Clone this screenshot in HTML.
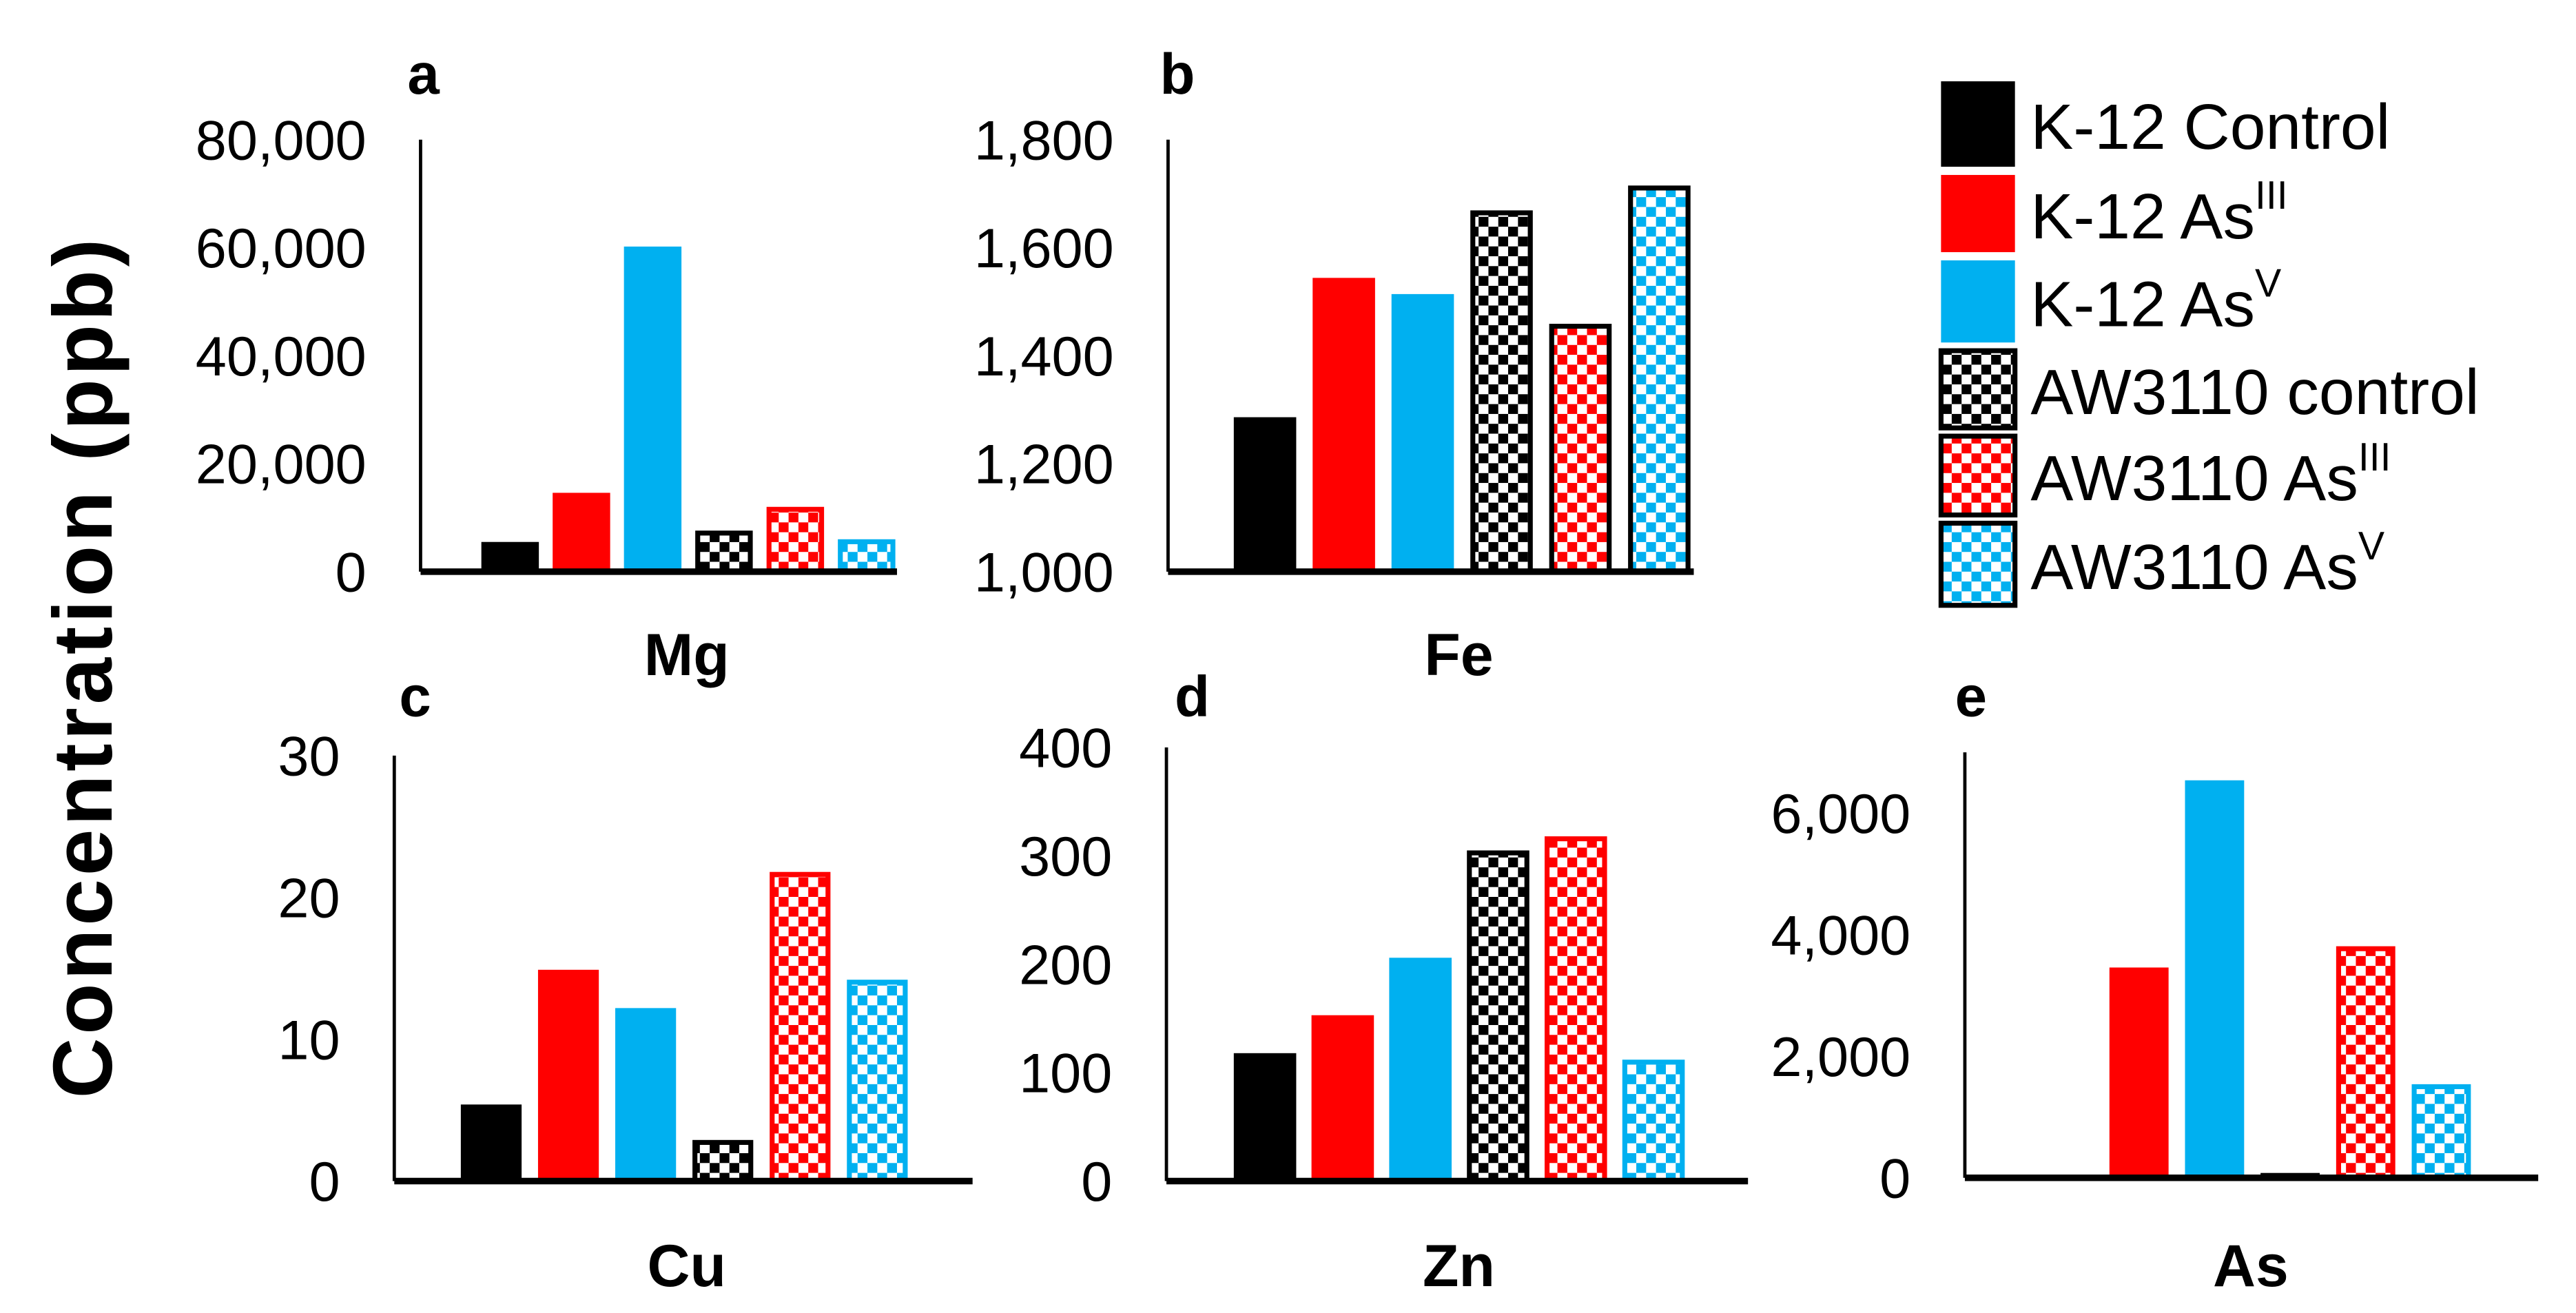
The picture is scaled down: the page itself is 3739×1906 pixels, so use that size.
<!DOCTYPE html>
<html><head><meta charset="utf-8"><style>
html,body{margin:0;padding:0;background:#fff;}
svg{display:block;}
text{font-family:"Liberation Sans",Arial,sans-serif;}
</style></head><body>
<svg id="fig" width="3739" height="1906" viewBox="0 0 1568 799.3" preserveAspectRatio="none" xmlns="http://www.w3.org/2000/svg">
<defs>
<pattern id="chk-black" width="12" height="12" patternUnits="userSpaceOnUse"><rect width="12" height="12" fill="#fff"/><rect width="6" height="6" fill="#000"/><rect x="6" y="6" width="6" height="6" fill="#000"/></pattern>
<pattern id="chk-red" width="12" height="12" patternUnits="userSpaceOnUse"><rect width="12" height="12" fill="#fff"/><rect width="6" height="6" fill="#ff0000"/><rect x="6" y="6" width="6" height="6" fill="#ff0000"/></pattern>
<pattern id="chk-blue" width="12" height="12" patternUnits="userSpaceOnUse"><rect width="12" height="12" fill="#fff"/><rect width="6" height="6" fill="#00b0f0"/><rect x="6" y="6" width="6" height="6" fill="#00b0f0"/></pattern>
</defs>
<text transform="translate(68,406) rotate(-90)" text-anchor="middle" font-size="51" font-weight="bold" letter-spacing="2">Concentration (ppb)</text>
<g id="charts"></g>
<g id="legend"></g>
</svg>
<script>
const seriesNames = ["K-12 Control","K-12 As","K-12 As","AW3110 control","AW3110 As","AW3110 As"];
const seriesSup = ["","III","V","","III","V"];
const mgValues = [5500, 14600, 60200, 7600, 12000, 6000];
const feValues = [1286, 1544, 1514, 1669, 1459, 1715];
const cuValues = [5.4, 14.9, 12.2, 2.9, 21.8, 14.2];
const znValues = [118, 153, 206, 305, 318, 112];
const asValues = [10, 3460, 6540, 80, 3810, 1540];
const mgTicks = [0, 20000, 40000, 60000, 80000];
const feTicks = [1000, 1200, 1400, 1600, 1800];
const cuTicks = [0, 10, 20, 30];
const znTicks = [0, 100, 200, 300, 400];
const asTicks = [0, 2000, 4000, 6000];
const categories = ["Mg","Fe","Cu","Zn","As"];

const NS = "http://www.w3.org/2000/svg";
const fills = ["#000","#ff0000","#00b0f0","url(#chk-black)","url(#chk-red)","url(#chk-blue)"];
const strokes = ["none","none","none","#000","#ff0000","#00b0f0"];
function mk(tag, attrs, parent){const e=document.createElementNS(NS,tag);for(const k in attrs)e.setAttribute(k,attrs[k]);parent.appendChild(e);return e;}
function fmt(v){return v.toLocaleString("en-US");}

const panels = [
 {key:"mg",letter:"a",cat:categories[0],vals:mgValues,ticks:mgTicks,min:0,max:80000,ax:256,top:85,base:348,xend:546,first:54.5,step:43.4,bw:35,lx:248,ly:57,cx:418,cy:411,allBlack:false},
 {key:"fe",letter:"b",cat:categories[1],vals:feValues,ticks:feTicks,min:1000,max:1800,ax:711,top:85,base:348,xend:1031,first:59,step:48,bw:38,lx:706,ly:57,cx:888,cy:411,allBlack:true},
 {key:"cu",letter:"c",cat:categories[2],vals:cuValues,ticks:cuTicks,min:0,max:30,ax:240,top:460,base:719,xend:592,first:59,step:47,bw:37,lx:243,ly:436,cx:418,cy:783,allBlack:false},
 {key:"zn",letter:"d",cat:categories[3],vals:znValues,ticks:znTicks,min:0,max:400,ax:710,top:455,base:719,xend:1064,first:60,step:47.3,bw:38,lx:715,ly:436,cx:888,cy:783,allBlack:false},
 {key:"as",letter:"e",cat:categories[4],vals:asValues,ticks:asTicks,min:0,max:7000,ax:1196,top:458,base:717,xend:1545,first:60,step:46,bw:36,lx:1190,ly:436,cx:1370,cy:783,allBlack:false,scaleTop:495,scaleVal:6000}
];
const root = document.getElementById("charts");
panels.forEach(p=>{
  const g = mk("g",{},root);
  
  
  let yScale;
  if(p.scaleVal){ yScale = v => p.base - (v - p.min)/(p.scaleVal - p.min)*(p.base - p.scaleTop); }
  else { yScale = v => p.base - (v - p.min)/(p.max - p.min)*(p.base - p.top); }
  p.vals.forEach((v,i)=>{
    const cx = p.ax + p.first + i*p.step;
    const y = yScale(v);
    const isPat = i>=3;
    const r = mk("rect",{x:cx-p.bw/2+(isPat?1.5:0),y:y+(isPat?1.5:0),width:p.bw-(isPat?3:0),height:Math.max(0,p.base-y-(isPat?1.5:0)),fill:fills[i],stroke:isPat?(p.allBlack?"#000":strokes[i]):"none","stroke-width":isPat?3:0},g);
    
    
  });
  const ya = mk("line",{x1:p.ax,y1:p.top,x2:p.ax,y2:p.base,stroke:"#000","stroke-width":2},g);
  
  
  const xa = mk("line",{x1:p.ax,y1:p.base,x2:p.xend,y2:p.base,stroke:"#000","stroke-width":4},g);
  
  
  p.ticks.forEach(t=>{
    const tt = mk("text",{x:p.ax-33,y:yScale(t)+12,"text-anchor":"end","font-size":34},g);
    tt.textContent = fmt(t);
    
    
  });
  const lt = mk("text",{x:p.lx,y:p.ly,"font-size":35,"font-weight":"bold"},g);
  lt.textContent = p.letter;
  
  
  const ct = mk("text",{x:p.cx,y:p.cy,"text-anchor":"middle","font-size":36,"font-weight":"bold"},g);
  ct.textContent = p.cat;
  
  
});
const leg = document.getElementById("legend");
const rowTops = [48,105,157,212,264,317];
const rowH = [55,50,53,50,51,53];
seriesNames.forEach((n,i)=>{
  const g = mk("g",{},leg);
  
  
  const isPat = i>=3;
  mk("rect",{x:1181.5,y:rowTops[i]+1.5,width:45,height:rowH[i]-3,fill:fills[i],stroke:isPat?"#000":"none","stroke-width":isPat?3:0},g);
  const t = mk("text",{x:1236,y:rowTops[i]+rowH[i]/2+15,"font-size":39},g);
  t.textContent = n;
  if(seriesSup[i]){const s=mk("tspan",{"font-size":24,dy:-18},t);s.textContent=seriesSup[i];}
});
</script>
</body></html>
